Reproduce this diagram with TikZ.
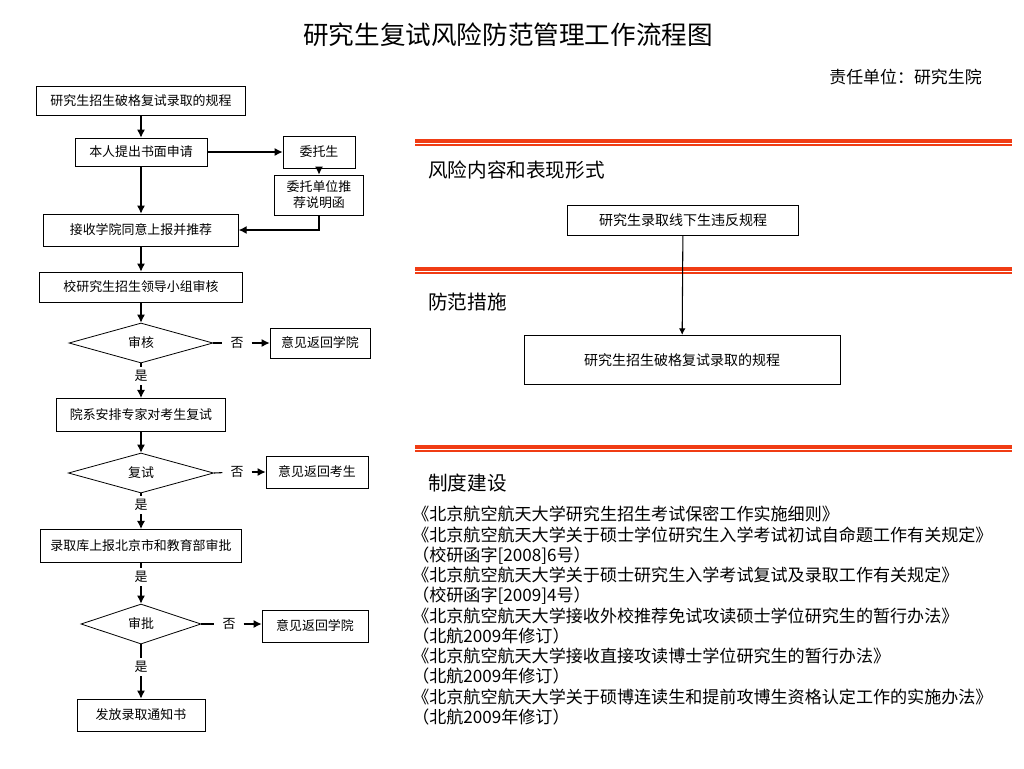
\documentclass[tikz,border=0pt]{standalone}
\usepackage{fontspec}
\setmainfont{Noto Sans CJK SC}
\usetikzlibrary{shapes.geometric,arrows.meta}
\definecolor{bandred}{RGB}{240,60,20}

\begin{document}
\begin{tikzpicture}[x=0.75pt,y=-0.75pt,>={Latex[length=6pt,width=6pt]},
    box/.style={draw, semithick, inner sep=0pt, font=\fontsize{9.7}{12}\selectfont},
    choice/.style={diamond, draw, semithick, inner sep=0pt, minimum height=30pt, font=\fontsize{9.7}{12}\selectfont},
    yesno/.style={inner xsep=6pt, inner ysep=2.5pt, font=\fontsize{9.7}{12}\selectfont},
    flow/.style={thick, ->},
    heading/.style={anchor=west, inner sep=0pt, font=\fontsize{14.7}{16}\selectfont}]
   \useasboundingbox (0,0) rectangle (1024,768);
   \node (title) at (508,35) {\fontsize{19.2}{22}\selectfont 研究生复试风险防范管理工作流程图};
   \node[anchor=east, inner sep=0pt, font=\fontsize{12.7}{14}\selectfont] (unit) at (982,77) {责任单位：研究生院};

   % left flow chart
   \node[box, minimum width=156.75pt, minimum height=21.75pt] (rule)  at (141,101)  {研究生招生破格复试录取的规程};
   \node[box, minimum width=99pt, minimum height=21pt] (apply)  at (141,152)  {本人提出书面申请};
   \node[box, minimum width=54pt, minimum height=24pt] (entrust)  at (319,152)  {委托生};
   \node[box, minimum width=67pt, minimum height=30pt, align=center] (letter)  at (319,195)  {委托单位推\\荐说明函};
   \node[box, minimum width=146pt, minimum height=24pt] (accept)  at (141,230)  {接收学院同意上报并推荐};
   \node[box, minimum width=152pt, minimum height=22.5pt] (group)  at (141,287)  {校研究生招生领导小组审核};
   \node[choice, minimum width=108pt] (check)  at (141,343)  {审核};
   \node[yesno] (no1)  at (237,343)  {否};
   \node[box, minimum width=75pt, minimum height=22.5pt] (back1)  at (320,343)  {意见返回学院};
   \node[yesno] (yes1)  at (141,376)  {是};
   \node[box, minimum width=127pt, minimum height=25pt] (expert)  at (141,415)  {院系安排专家对考生复试};
   \node[choice, minimum width=109pt] (retest)  at (141,473)  {复试};
   \node[yesno] (no2)  at (237,472)  {否};
   \node[box, minimum width=76.5pt, minimum height=24pt] (back2)  at (317,472)  {意见返回考生};
   \node[yesno] (yes2)  at (141,505)  {是};
   \node[box, minimum width=151pt, minimum height=25pt] (report)  at (141,546)  {录取库上报北京市和教育部审批};
   \node[yesno] (yes3)  at (141,577)  {是};
   \node[choice, minimum width=90pt] (approve)  at (141,624)  {审批};
   \node[yesno] (no3)  at (229,624)  {否};
   \node[box, minimum width=79.5pt, minimum height=24pt] (back3)  at (315,626)  {意见返回学院};
   \node[yesno] (yes4)  at (141,667)  {是};
   \node[box, minimum width=96pt, minimum height=24pt] (notice)  at (141,715)  {发放录取通知书};

   \draw[flow] (rule) to (apply);
   \draw[flow] (apply) to (entrust);
   \draw[flow] (entrust) to (letter);
   \draw[flow] (letter.south) |- (accept.east);
   \draw[flow] (apply) to (accept);
   \draw[flow] (accept) to (group);
   \draw[flow] (group) to (check);
   \draw[thick] (check.east) to (no1);
   \draw[flow] (no1) to (back1);
   \draw[thick] (check.south) to (yes1);
   \draw[flow] (yes1) to (expert);
   \draw[flow] (expert) to (retest);
   \draw[thick] (retest.east) to (no2);
   \draw[flow] (no2) to (back2);
   \draw[thick] (retest.south) to (yes2);
   \draw[flow] (yes2) to (report);
   \draw[thick] (report) to (yes3);
   \draw[flow] (yes3) to (approve);
   \draw[thick] (approve.east) to (no3);
   \draw[flow] (no3) to (back3.west |- no3);
   \draw[thick] (approve.south) to (yes4);
   \draw[flow] (yes4) to (notice);

   % right side
   \foreach \y in {141,269,447} {
     \draw[bandred, line width=3pt] (415,\y) -- (1012,\y);
     \draw[bandred, line width=1pt] (415,{\y+4}) -- (1012,{\y+4});
   }
   \node[heading] (riskhead)  at (428,170)  {风险内容和表现形式};
   \node[heading] (prevhead)  at (428,302)  {防范措施};
   \node[heading] (rulehead)  at (428,483)  {制度建设};
   \node[box, minimum width=173pt, minimum height=22.5pt, font=\fontsize{10.5}{12}\selectfont] (risk)  at (683,220)  {研究生录取线下生违反规程};
   \node[box, minimum width=237pt, minimum height=37pt, font=\fontsize{10.5}{12}\selectfont] (measure)  at (682,360)  {研究生招生破格复试录取的规程};
   \draw[line width=0.8pt, ->, >={Latex[length=5pt,width=5pt]}] (risk) to (measure);

   \node[anchor=north west, inner sep=0pt, align=left, font=\fontsize{12.8}{15.2}\selectfont] (docs)  at (412,506)  {《北京航空航天大学研究生招生考试保密工作实施细则》\\
   《北京航空航天大学关于硕士学位研究生入学考试初试自命题工作有关规定》\\
   （校研函字[2008]6号）\\
   《北京航空航天大学关于硕士研究生入学考试复试及录取工作有关规定》\\
   （校研函字[2009]4号）\\
   《北京航空航天大学接收外校推荐免试攻读硕士学位研究生的暂行办法》\\
   （北航2009年修订）\\
   《北京航空航天大学接收直接攻读博士学位研究生的暂行办法》\\
   （北航2009年修订）\\
   《北京航空航天大学关于硕博连读生和提前攻博生资格认定工作的实施办法》\\
   （北航2009年修订）};
\end{tikzpicture}
\end{document}
